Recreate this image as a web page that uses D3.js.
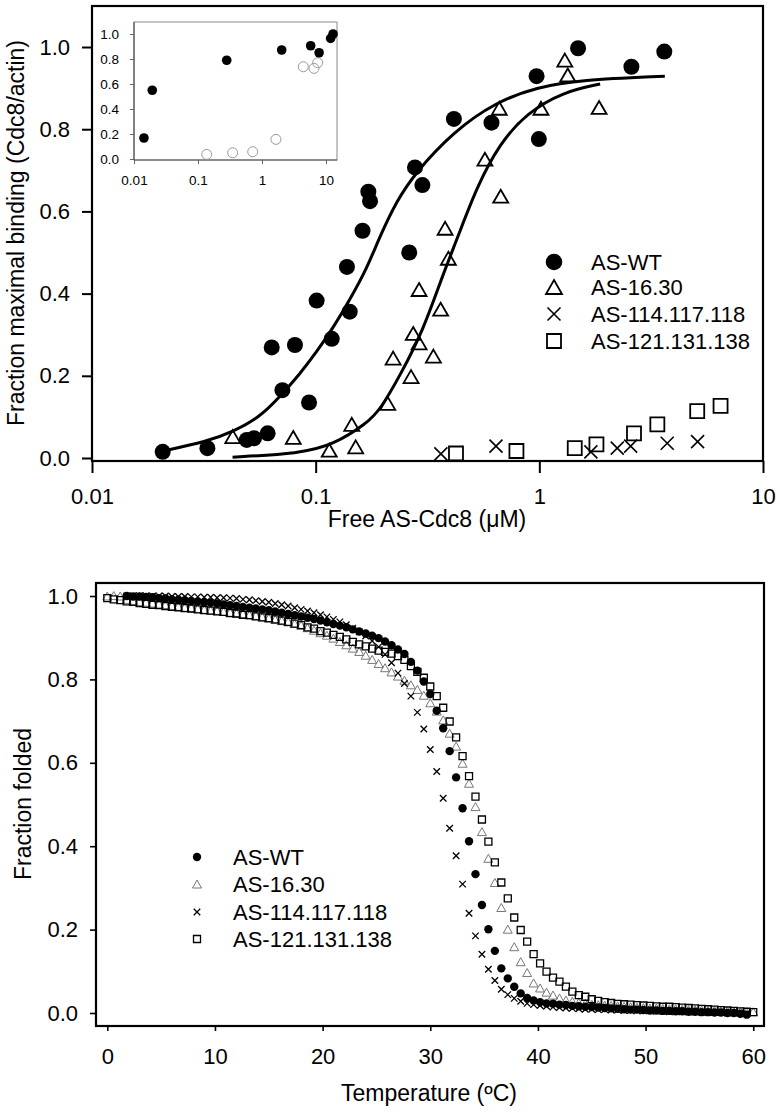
<!DOCTYPE html>
<html><head><meta charset="utf-8">
<script src="https://cdn.jsdelivr.net/npm/d3@7"></script>
<style>
body{margin:0;background:#fff}
svg{display:block}
text{font-family:"Liberation Sans",Arial,Helvetica,sans-serif;fill:#000}
</style>
</head><body>
<svg id="c" width="780" height="1112"></svg>
<script>
// ================= DATA =================
const seriesNames = ["AS-WT", "AS-16.30", "AS-114.117.118", "AS-121.131.138"];

// ---- Panel A: binding vs free AS-Cdc8 (µM) ----
const bindTicksX = [0.01, 0.1, 1, 10];
const bindTickLabelsX = ["0.01", "0.1", "1", "10"];
const bindTicksY = [0, 0.2, 0.4, 0.6, 0.8, 1.0];

const bindWT = [[0.0207,0.015],[0.0328,0.024],[0.0492,0.044],[0.053,0.048],[0.061,0.06],[0.0636,0.269],
  [0.071,0.165],[0.0808,0.275],[0.0934,0.135],[0.101,0.383],[0.118,0.29],[0.138,0.465],[0.142,0.356],
  [0.162,0.553],[0.172,0.648],[0.175,0.625],[0.262,0.50],[0.278,0.707],[0.30,0.664],[0.415,0.825],
  [0.611,0.816],[0.972,0.929],[0.995,0.776],[1.49,0.997],[2.58,0.952],[3.62,0.989]];
const bind1630 = [[0.0426,0.052],[0.0794,0.05],[0.115,0.019],[0.145,0.082],[0.151,0.027],[0.21,0.133],
  [0.222,0.243],[0.267,0.198],[0.273,0.303],[0.29,0.41],[0.29,0.28],[0.336,0.248],[0.362,0.362],
  [0.379,0.559],[0.392,0.486],[0.571,0.727],[0.662,0.851],[0.672,0.637],[1.017,0.851],[1.30,0.968],
  [1.34,0.932],[1.85,0.853]];
const bind114 = [[0.363,0.01],[0.64,0.029],[1.70,0.015],[2.23,0.024],[2.56,0.029],[3.73,0.036],[5.1,0.04]];
const bind121 = [[0.424,0.011],[0.79,0.017],[1.44,0.024],[1.80,0.033],[2.65,0.06],[3.37,0.082],[5.08,0.114],[6.46,0.127]];

// fitted curves
const fitWT = [[0.0207,0.017],[0.0326,0.040],[0.0428,0.064],[0.0564,0.10],[0.0692,0.149],[0.0851,0.205],
  [0.101,0.258],[0.12,0.318],[0.142,0.385],[0.169,0.46],[0.194,0.54],[0.23,0.625],[0.278,0.693],
  [0.412,0.794],[0.644,0.867],[0.972,0.902],[1.52,0.92],[3.64,0.929]];
const fit1630 = [[0.0425,0.002],[0.0851,0.011],[0.12,0.032],[0.169,0.084],[0.194,0.117],[0.238,0.20],
  [0.303,0.311],[0.372,0.449],[0.427,0.53],[0.525,0.66],[0.667,0.766],[0.877,0.839],[1.28,0.891],[1.87,0.91]];

// inset
const insetTicksX = [0.01, 0.1, 1, 10];
const insetTickLabelsX = ["0.01", "0.1", "1", "10"];
const insetTicksY = [0, 0.2, 0.4, 0.6, 0.8, 1.0];
const insetFilled = [[0.0143,0.168],[0.0193,0.55],[0.281,0.79],[2.03,0.872],[5.76,0.906],[7.8,0.85],[11.8,0.965],[12.9,1.0]];
const insetOpen = [[0.137,0.037],[0.348,0.05],[0.716,0.058],[1.65,0.157],[4.42,0.738],[6.5,0.725],[7.41,0.77]];

// ---- Panel B: thermal unfolding ----
const tempTicks = [0, 10, 20, 30, 40, 50, 60];
const foldTicksY = [0, 0.2, 0.4, 0.6, 0.8, 1.0];
const temps = [0,0.6,1.2,1.8,2.4,3,3.6,4.2,4.8,5.4,
  6,6.6,7.2,7.8,8.4,9,9.6,10.2,10.8,11.4,
  12,12.6,13.2,13.8,14.4,15,15.6,16.2,16.8,17.4,
  18,18.6,19.2,19.8,20.4,21,21.6,22.2,22.8,23.4,
  24,24.6,25.2,25.8,26.4,27,27.6,28.2,28.8,29.4,
  30,30.6,31.2,31.8,32.4,33,33.6,34.2,34.8,35.4,
  36,36.6,37.2,37.8,38.4,39,39.6,40.2,40.8,41.4,
  42,42.6,43.2,43.8,44.4,45,45.6,46.2,46.8,47.4,
  48,48.6,49.2,49.8,50.4,51,51.6,52.2,52.8,53.4,
  54,54.6,55.2,55.8,56.4,57,57.6,58.2,58.8,59.4,
  60];
const foldWT = [null,null,null,1.000,0.999,0.999,0.998,0.997,0.995,0.994,
  0.992,0.991,0.990,0.988,0.987,0.985,0.984,0.982,0.980,0.978,
  0.976,0.974,0.972,0.970,0.968,0.966,0.963,0.960,0.957,0.954,
  0.951,0.948,0.945,0.941,0.937,0.933,0.929,0.925,0.920,0.915,
  0.910,0.905,0.899,0.891,0.882,0.872,0.861,0.842,0.821,0.795,
  0.765,0.725,0.683,0.628,0.565,0.491,0.412,0.333,0.259,0.201,
  0.149,0.107,0.083,0.063,0.047,0.036,0.030,0.026,0.023,0.022,
  0.020,0.019,0.017,0.016,0.015,0.014,0.013,0.012,0.011,0.010,
  0.009,0.008,0.008,0.007,0.006,0.006,0.005,0.005,0.004,0.004,
  0.003,0.003,0.002,0.002,0.001,0.001,0.000,0.000,-0.002,-0.004,
  null];
const fold1630 = [1.000,1.001,1.000,0.992,0.989,0.987,0.985,0.983,0.981,0.979,
  0.977,0.975,0.973,0.972,0.970,0.968,0.966,0.965,0.963,0.961,
  0.959,0.957,0.955,0.953,0.950,0.947,0.944,0.941,0.938,0.934,
  0.930,0.924,0.918,0.912,0.906,0.899,0.891,0.883,0.875,0.867,
  0.858,0.848,0.838,0.828,0.818,0.808,0.798,0.787,0.776,0.762,
  0.744,0.724,0.703,0.671,0.640,0.599,0.551,0.495,0.435,0.371,
  0.313,0.253,0.201,0.159,0.123,0.097,0.072,0.060,0.050,0.043,
  0.036,0.031,0.028,0.025,0.023,0.021,0.020,0.019,0.018,0.017,
  0.016,0.015,0.014,0.013,0.012,0.012,0.011,0.010,0.010,0.009,
  0.008,0.008,0.007,0.006,0.006,0.005,0.005,0.004,0.004,0.003,
  0.003];
const fold114 = [null,null,null,1.000,1.001,1.001,1.001,1.000,1.000,1.000,
  0.999,0.999,0.999,0.998,0.998,0.997,0.997,0.996,0.996,0.995,
  0.994,0.992,0.991,0.989,0.987,0.985,0.982,0.979,0.976,0.972,
  0.968,0.964,0.960,0.955,0.950,0.944,0.938,0.931,0.923,0.914,
  0.904,0.892,0.878,0.860,0.840,0.815,0.790,0.760,0.721,0.681,
  0.632,0.579,0.515,0.443,0.377,0.309,0.239,0.185,0.141,0.105,
  0.078,0.057,0.044,0.035,0.028,0.023,0.020,0.018,0.016,0.014,
  0.013,0.012,0.011,0.010,0.009,0.009,0.008,0.008,0.007,0.007,
  0.006,0.006,0.005,0.005,0.005,0.004,0.004,0.003,0.003,0.003,
  0.002,0.002,0.002,0.001,0.001,0.001,0.000,0.000,-0.001,-0.002,
  null];
const fold121 = [0.995,0.992,0.990,0.987,0.986,0.983,0.981,0.979,0.978,0.976,
  0.974,0.973,0.971,0.970,0.968,0.966,0.965,0.963,0.962,0.959,
  0.958,0.955,0.954,0.951,0.949,0.947,0.944,0.941,0.938,0.934,
  0.930,0.925,0.922,0.916,0.912,0.907,0.902,0.896,0.890,0.884,
  0.879,0.874,0.869,0.866,0.862,0.856,0.847,0.832,0.818,0.804,
  0.783,0.760,0.732,0.699,0.661,0.616,0.568,0.519,0.464,0.411,
  0.361,0.313,0.275,0.229,0.199,0.171,0.141,0.119,0.099,0.085,
  0.075,0.063,0.051,0.043,0.039,0.033,0.029,0.026,0.024,0.022,
  0.021,0.020,0.019,0.018,0.017,0.016,0.015,0.015,0.014,0.013,
  0.012,0.011,0.010,0.009,0.008,0.007,0.006,0.005,0.004,0.003,
  0.002];

// ================= DRAWING =================
const svg = d3.select("#c");

function triPath(w, h) { return `M0,${-h/2}L${w/2},${h/2}L${-w/2},${h/2}Z`; }
function crossPath(s) { const a = s/2; return `M${-a},${-a}L${a},${a}M${-a},${a}L${a},${-a}`; }
function sqPath(s) { const a = s/2; return `M${-a},${-a}H${a}V${a}H${-a}Z`; }

function styleAxis(g, fs, tickW, tickColor) {
  g.select(".domain").remove();
  g.selectAll(".tick line").attr("stroke", tickColor || "#000").attr("stroke-width", tickW);
  g.selectAll(".tick text").attr("font-size", fs).attr("fill", "#000")
    .style("font-family", '"Liberation Sans",Arial,Helvetica,sans-serif');
}

// ---------- Panel A ----------
const xA = d3.scaleLog().domain([0.01, 10]).range([92, 763]);
const yA = d3.scaleLinear().domain([-0.0073, 1.0998]).range([461, 6]);
const gA = svg.append("g");

gA.append("g").attr("transform", "translate(92,0)")
  .call(d3.axisLeft(yA).tickValues(bindTicksY).tickFormat(d3.format(".1f")).tickSize(10).tickPadding(12))
  .call(g => styleAxis(g, 22, 2));
gA.append("g").attr("transform", "translate(0,461)")
  .call(d3.axisBottom(xA).tickValues(bindTicksX).tickFormat((d, i) => bindTickLabelsX[i]).tickSize(12).tickPadding(15))
  .call(g => styleAxis(g, 22, 2));

gA.append("rect").attr("x", 92).attr("y", 6).attr("width", 671).attr("height", 455)
  .attr("fill", "none").attr("stroke", "#000").attr("stroke-width", 2.2);

gA.append("text").attr("transform", "translate(24,233) rotate(-90)").attr("text-anchor", "middle")
  .attr("font-size", 23).text("Fraction maximal binding (Cdc8/actin)");
gA.append("text").attr("x", 427).attr("y", 527).attr("text-anchor", "middle")
  .attr("font-size", 23).text("Free AS-Cdc8 (\u03BCM)");

// fitted curves
const lineA = d3.line().x(d => xA(d[0])).y(d => yA(d[1])).curve(d3.curveBasis);
[fitWT, fit1630].forEach(f => gA.append("path").attr("d", lineA(f))
  .attr("fill", "none").attr("stroke", "#000").attr("stroke-width", 3));

// markers
gA.selectAll("path.t1630").data(bind1630).join("path").attr("class", "t1630")
  .attr("transform", d => `translate(${xA(d[0])},${yA(d[1])})`).attr("d", triPath(15, 13))
  .attr("fill", "none").attr("stroke", "#000").attr("stroke-width", 1.8);
gA.selectAll("path.x114").data(bind114).join("path").attr("class", "x114")
  .attr("transform", d => `translate(${xA(d[0])},${yA(d[1])})`).attr("d", crossPath(13))
  .attr("fill", "none").attr("stroke", "#000").attr("stroke-width", 1.6);
gA.selectAll("path.s121").data(bind121).join("path").attr("class", "s121")
  .attr("transform", d => `translate(${xA(d[0])},${yA(d[1])})`).attr("d", sqPath(14))
  .attr("fill", "none").attr("stroke", "#000").attr("stroke-width", 1.8);
gA.selectAll("circle.wt").data(bindWT).join("circle").attr("class", "wt")
  .attr("cx", d => xA(d[0])).attr("cy", d => yA(d[1])).attr("r", 8).attr("fill", "#000");

// legend A
const legA = gA.append("g");
const legAy = [262, 287, 314, 341];
legA.append("circle").attr("cx", 554).attr("cy", legAy[0]).attr("r", 8.3).attr("fill", "#000");
legA.append("path").attr("transform", `translate(554,${legAy[1]})`).attr("d", triPath(16, 14))
  .attr("fill", "none").attr("stroke", "#000").attr("stroke-width", 1.8);
legA.append("path").attr("transform", `translate(554,${legAy[2]})`).attr("d", crossPath(13))
  .attr("fill", "none").attr("stroke", "#000").attr("stroke-width", 1.6);
legA.append("path").attr("transform", `translate(554,${legAy[3]})`).attr("d", sqPath(14))
  .attr("fill", "none").attr("stroke", "#000").attr("stroke-width", 1.8);
seriesNames.forEach((n, i) => legA.append("text").attr("x", 591).attr("y", legAy[i]).attr("dy", "0.36em")
  .attr("font-size", 22).text(n));

// inset
const xI = d3.scaleLog().domain([0.01, 14.85]).range([134, 337]);
const yI = d3.scaleLinear().domain([-0.008, 1.096]).range([160, 22]);
const gI = svg.append("g");
gI.append("rect").attr("x", 134).attr("y", 22).attr("width", 203).attr("height", 138)
  .attr("fill", "#fff").attr("stroke", "#8a8a8a").attr("stroke-width", 1);
gI.append("g").attr("transform", "translate(134,0)")
  .call(d3.axisLeft(yI).tickValues(insetTicksY).tickFormat(d3.format(".1f")).tickSize(4).tickPadding(11))
  .call(g => styleAxis(g, 13.5, 1, "#666"));
gI.append("g").attr("transform", "translate(0,160)")
  .call(d3.axisBottom(xI).tickValues(insetTicksX).tickFormat((d, i) => insetTickLabelsX[i]).tickSize(4).tickPadding(11))
  .call(g => styleAxis(g, 13.5, 1, "#666"));
gI.append("line").attr("x1", 134).attr("x2", 134).attr("y1", 22).attr("y2", 160).attr("stroke", "#555").attr("stroke-width", 1.2);
gI.append("line").attr("x1", 134).attr("x2", 337).attr("y1", 160).attr("y2", 160).attr("stroke", "#555").attr("stroke-width", 1.2);
gI.selectAll("circle.io").data(insetOpen).join("circle").attr("class", "io")
  .attr("cx", d => xI(d[0])).attr("cy", d => yI(d[1])).attr("r", 5)
  .attr("fill", "none").attr("stroke", "#999").attr("stroke-width", 1);
gI.selectAll("circle.if").data(insetFilled).join("circle").attr("class", "if")
  .attr("cx", d => xI(d[0])).attr("cy", d => yI(d[1])).attr("r", 4.8).attr("fill", "#000");

// ---------- Panel B ----------
const xB = d3.scaleLinear().domain([-1.05, 61.0]).range([96, 764]);
const yB = d3.scaleLinear().domain([-0.0312, 1.0312]).range([1026, 583]);
const gB = svg.append("g");

gB.append("g").attr("transform", "translate(96,0)")
  .call(d3.axisLeft(yB).tickValues(foldTicksY).tickFormat(d3.format(".1f")).tickSize(6).tickPadding(12))
  .call(g => styleAxis(g, 22, 1.6));
gB.append("g").attr("transform", "translate(0,1026)")
  .call(d3.axisBottom(xB).tickValues(tempTicks).tickFormat(d3.format("d")).tickSize(5).tickPadding(17))
  .call(g => styleAxis(g, 22, 1.6));
gB.append("rect").attr("x", 96).attr("y", 583).attr("width", 668).attr("height", 443)
  .attr("fill", "none").attr("stroke", "#000").attr("stroke-width", 2.2);

gB.append("text").attr("transform", "translate(31,804) rotate(-90)").attr("text-anchor", "middle")
  .attr("font-size", 23).text("Fraction folded");
gB.append("text").attr("x", 429).attr("y", 1101).attr("text-anchor", "middle")
  .attr("font-size", 23).text("Temperature (\u00BAC)");

function pts(ys) { return temps.map((t, i) => [t, ys[i]]).filter(d => d[1] !== null); }

gB.selectAll("path.bt").data(pts(fold1630)).join("path").attr("class", "bt")
  .attr("transform", d => `translate(${xB(d[0])},${yB(d[1])})`).attr("d", triPath(9, 8))
  .attr("fill", "none").attr("stroke", "#777").attr("stroke-width", 1);
gB.selectAll("path.bs").data(pts(fold121)).join("path").attr("class", "bs")
  .attr("transform", d => `translate(${xB(d[0])},${yB(d[1])})`).attr("d", sqPath(7))
  .attr("fill", "none").attr("stroke", "#000").attr("stroke-width", 1.3);
gB.selectAll("path.bx").data(pts(fold114)).join("path").attr("class", "bx")
  .attr("transform", d => `translate(${xB(d[0])},${yB(d[1])})`).attr("d", crossPath(6.5))
  .attr("fill", "none").attr("stroke", "#000").attr("stroke-width", 1.3);
gB.selectAll("circle.bw").data(pts(foldWT)).join("circle").attr("class", "bw")
  .attr("cx", d => xB(d[0])).attr("cy", d => yB(d[1])).attr("r", 4.2).attr("fill", "#000");

// legend B
const legB = gB.append("g");
const legBy = [857, 884, 912, 939];
legB.append("circle").attr("cx", 197).attr("cy", legBy[0]).attr("r", 4.2).attr("fill", "#000");
legB.append("path").attr("transform", `translate(197,${legBy[1]})`).attr("d", triPath(9, 8))
  .attr("fill", "none").attr("stroke", "#777").attr("stroke-width", 1);
legB.append("path").attr("transform", `translate(197,${legBy[2]})`).attr("d", crossPath(6.5))
  .attr("fill", "none").attr("stroke", "#000").attr("stroke-width", 1.3);
legB.append("path").attr("transform", `translate(197,${legBy[3]})`).attr("d", sqPath(7))
  .attr("fill", "none").attr("stroke", "#000").attr("stroke-width", 1.3);
seriesNames.forEach((n, i) => legB.append("text").attr("x", 233).attr("y", legBy[i]).attr("dy", "0.36em")
  .attr("font-size", 22).text(n));
</script>
</body></html>
